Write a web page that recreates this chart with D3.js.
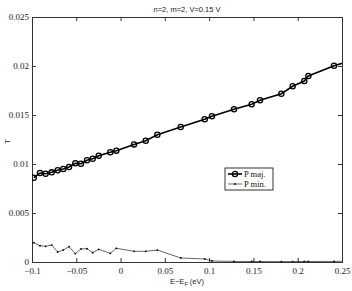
<!DOCTYPE html>
<html>
<head>
<meta charset="utf-8">
<style>
  body { margin: 0; background: #fff; }
  .tick text { font-family: "Liberation Serif", serif; font-size: 9px; fill: #222; }
</style>
</head>
<body>
<svg width="352" height="291"></svg>
<script src="https://d3js.org/d3.v7.min.js"></script>
<script>
// energy points (eV) and transmission for both spin channels
var energy = [-0.098, -0.091, -0.0846, -0.0778, -0.071, -0.0647, -0.0582, -0.0511, -0.0447, -0.0379,
              -0.0315, -0.0247, -0.0116, -0.0048, 0.0152, 0.0284, 0.0415, 0.0679, 0.095, 0.1032,
              0.1281, 0.148, 0.1574, 0.1815, 0.1943, 0.2074, 0.212, 0.241, 0.27];
var tMaj = [0.0086, 0.00908, 0.00901, 0.00915, 0.00936, 0.00949, 0.0097, 0.01007, 0.01003, 0.01038,
            0.01054, 0.01085, 0.0112, 0.01136, 0.0120, 0.01238, 0.01299, 0.01378, 0.01456, 0.01487,
            0.01558, 0.01609, 0.0165, 0.01717, 0.01793, 0.01847, 0.01898, 0.02003, 0.0208];
var tMin = [0.00197, 0.00166, 0.0016, 0.00173, 0.00102, 0.00122, 0.00156, 0.00085, 0.00133, 0.00136,
            0.00095, 0.00129, 0.00089, 0.0014, 0.00109, 0.00109, 0.00122, 0.00041, 0.00031, 0.0001,
            0.00006, 0.00005, 0.00005, 0.00004, 0.00004, 0.00005, 0.00005, 0.00006, 0.0001];
var xTicks = [-0.1, -0.05, 0, 0.05, 0.1, 0.15, 0.2, 0.25];
var yTicks = [0, 0.005, 0.01, 0.015, 0.02, 0.025];
var seriesNames = ["P maj.", "P min."];

var margin = {left: 32, top: 17, right: 10, bottom: 29};
var svg = d3.select("svg");
var width = 352 - margin.left - margin.right;
var height = 291 - margin.top - margin.bottom;

var g = svg.append("g").attr("transform", "translate(" + margin.left + "," + margin.top + ")");

var x = d3.scaleLinear().domain([-0.1, 0.25]).range([0, width]);
var y = d3.scaleLinear().domain([0, 0.025]).range([height, 0]);

var fmt = function(d){ return d3.format("")(d).replace("-", "\u2212"); };

g.append("defs").append("clipPath").attr("id", "clip")
  .append("rect").attr("width", width).attr("height", height);

// axes: ticks pointing inward, box on all sides
g.append("g").attr("transform", "translate(0," + height + ")")
  .call(d3.axisBottom(x).tickValues(xTicks).tickSize(-4).tickPadding(6).tickFormat(fmt));
g.append("g")
  .call(d3.axisLeft(y).tickValues(yTicks).tickSize(-4).tickPadding(3).tickFormat(fmt));
g.append("g")
  .call(d3.axisTop(x).tickValues(xTicks).tickSize(-4).tickFormat(""));
g.append("g").attr("transform", "translate(" + width + ",0)")
  .call(d3.axisRight(y).tickValues(yTicks).tickSize(-4).tickFormat(""));
g.selectAll(".domain").attr("stroke", "#333");
g.selectAll(".tick line").attr("stroke", "#333");

var maj = energy.map(function(e, i){ return [e, tMaj[i]]; });
var mnr = energy.map(function(e, i){ return [e, tMin[i]]; });

var line = d3.line().x(function(d){ return x(d[0]); }).y(function(d){ return y(d[1]); });

var plot = g.append("g").attr("clip-path", "url(#clip)");

plot.append("path").datum(mnr)
  .attr("fill", "none").attr("stroke", "#000").attr("stroke-width", 0.6).attr("d", line);
plot.selectAll(".dot").data(mnr).enter().append("circle")
  .attr("class", "dot")
  .attr("cx", function(d){ return x(d[0]); })
  .attr("cy", function(d){ return y(d[1]); })
  .attr("r", 0.9).attr("fill", "#000");

plot.append("path").datum(maj)
  .attr("fill", "none").attr("stroke", "#000").attr("stroke-width", 1.6).attr("d", line);
plot.selectAll(".mk").data(maj).enter().append("circle")
  .attr("class", "mk")
  .attr("cx", function(d){ return x(d[0]); })
  .attr("cy", function(d){ return y(d[1]); })
  .attr("r", 2.6).attr("fill", "none").attr("stroke", "#000").attr("stroke-width", 1.3);

// legend
var lg = g.append("g").attr("transform", "translate(" + (225 - margin.left) + "," + (168 - margin.top) + ")");
lg.append("rect").attr("width", 48).attr("height", 22)
  .attr("fill", "#fff").attr("stroke", "#000").attr("stroke-width", 0.8);
lg.append("line").attr("x1", 3).attr("x2", 17).attr("y1", 6).attr("y2", 6)
  .attr("stroke", "#000").attr("stroke-width", 1.6);
lg.append("circle").attr("cx", 10).attr("cy", 6).attr("r", 2.6)
  .attr("fill", "none").attr("stroke", "#000").attr("stroke-width", 1.3);
lg.append("line").attr("x1", 3).attr("x2", 17).attr("y1", 16).attr("y2", 16)
  .attr("stroke", "#000").attr("stroke-width", 0.6);
lg.append("circle").attr("cx", 10).attr("cy", 16).attr("r", 0.9).attr("fill", "#000");
lg.selectAll("text").data(seriesNames).enter().append("text")
  .attr("x", 19).attr("y", function(d, i){ return 9 + i * 10; })
  .attr("font-family", "Liberation Serif, serif").attr("font-size", 8.5)
  .attr("fill", "#111")
  .text(function(d){ return d; });

// title and axis labels
svg.append("text").attr("x", margin.left + width / 2).attr("y", 12)
  .attr("text-anchor", "middle").attr("font-family", "Liberation Sans, sans-serif")
  .attr("font-size", 7.5).attr("fill", "#222").text("n=2, m=2, V=0.15 V");

var xl = svg.append("text").attr("x", margin.left + width / 2).attr("y", 284)
  .attr("text-anchor", "middle").attr("font-family", "Liberation Sans, sans-serif")
  .attr("font-size", 7.5).attr("fill", "#222");
xl.append("tspan").text("E\u2212E");
xl.append("tspan").attr("font-size", 5.5).attr("dy", 2).text("F");
xl.append("tspan").attr("dy", -2).text(" (eV)");

svg.append("text").attr("transform", "translate(10," + (margin.top + height / 2 + 2) + ") rotate(-90)")
  .attr("text-anchor", "middle").attr("font-family", "Liberation Sans, sans-serif")
  .attr("font-size", 7.5).attr("fill", "#222").text("T");
</script>
</body>
</html>
